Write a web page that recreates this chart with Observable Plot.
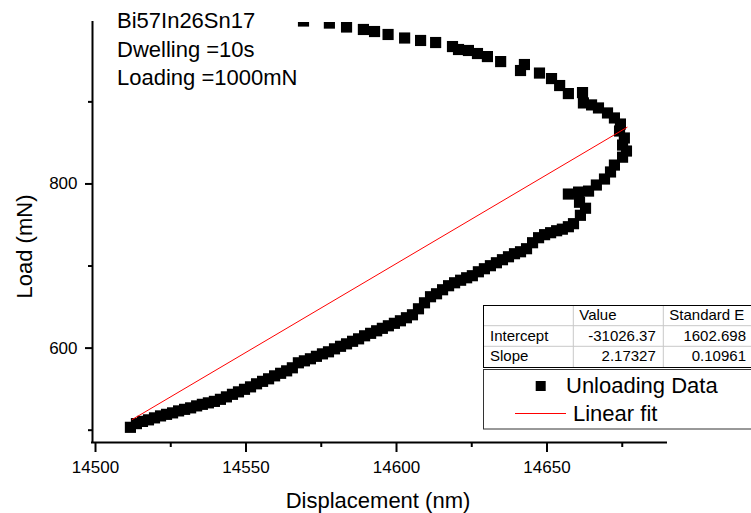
<!DOCTYPE html>
<html>
<head>
<meta charset="utf-8">
<script src="https://cdn.jsdelivr.net/npm/d3@7"></script>
<script src="https://cdn.jsdelivr.net/npm/@observablehq/plot@0.6"></script>
<style>
  html, body { margin: 0; padding: 0; background: #ffffff; }
  #wrap { position: relative; width: 751px; height: 513px; overflow: hidden; background: #ffffff; }
  #wrap svg { display: block; }
</style>
</head>
<body>
<div id="wrap"></div>
<script>
// ---- data ----
// upper branch (top) -> nose -> lower branch (bottom-left)
const displacement = [
  14569.1, 14577.7, 14583.4, 14589.0, 14592.7, 14597.2, 14602.7, 14608.0, 14613.0, 14618.6,
  14620.6, 14623.9, 14626.9, 14630.2, 14634.6, 14641.2, 14642.5, 14647.5, 14651.5, 14654.2,
  14657.1, 14661.8, 14662.1, 14664.8, 14667.1, 14670.1, 14672.4, 14674.4, 14674.1, 14675.7,
  14675.1, 14676.4, 14675.1, 14672.4, 14671.1, 14669.1, 14666.4, 14663.8, 14660.5, 14657.1,
  14660.8, 14662.8, 14661.1, 14658.8,
  14657.1, 14655.1, 14653.2, 14651.2, 14649.2, 14647.2, 14645.2, 14643.2, 14641.2, 14639.2,
  14637.2, 14635.2, 14633.2, 14631.2, 14629.2, 14627.2, 14625.2, 14623.3, 14621.3, 14619.3,
  14617.3, 14615.3, 14613.3, 14611.3, 14609.3, 14607.3, 14605.3, 14603.3, 14601.3, 14599.3,
  14597.3, 14595.3, 14593.4, 14591.4, 14589.4, 14587.4, 14585.4, 14583.4, 14581.4, 14579.4,
  14577.4, 14575.4, 14573.4, 14571.4, 14569.4, 14567.4, 14565.4, 14563.5, 14561.5, 14559.5,
  14557.5, 14555.5, 14553.5, 14551.5, 14549.5, 14547.5, 14545.5, 14543.5, 14541.5, 14539.5,
  14537.5, 14535.5, 14533.6, 14531.6, 14529.6, 14527.6, 14525.6, 14523.6, 14521.6, 14519.6,
  14517.6, 14515.6, 14513.6, 14511.6
];
const load = [
  998.5, 996.0, 991.2, 988.2, 985.7, 982.1, 977.8, 974.8, 972.3, 967.4,
  963.8, 962.6, 958.9, 955.2, 949.1, 938.2, 945.5, 935.1, 928.4, 919.9,
  910.1, 911.3, 898.7, 896.3, 892.6, 886.5, 880.4, 873.0, 864.5, 856.0,
  847.4, 840.1, 832.6, 823.0, 814.6, 806.0, 798.7, 791.3, 790.1, 787.7,
  777.7, 770.4, 761.8, 751.6,
  747.9, 744.9, 743.0, 740.6, 738.2, 734.5, 728.4, 721.1, 717.4, 715.0,
  711.3, 707.7, 704.0, 700.4, 696.7, 693.0, 688.2, 685.7, 682.7, 679.6,
  676.0, 671.1, 666.2, 662.6, 655.2, 647.9, 640.6, 637.0, 633.3, 630.2,
  627.2, 624.1, 621.1, 618.0, 615.0, 611.3, 608.3, 605.2, 602.2, 599.1,
  595.5, 593.0, 590.0, 587.0, 584.5, 582.1, 576.0, 572.3, 569.3, 566.2,
  562.6, 559.5, 556.5, 552.8, 549.8, 546.7, 543.7, 540.6, 537.6, 535.1,
  533.3, 531.5, 529.6, 527.2, 525.4, 523.5, 521.1, 519.3, 517.4, 515.0,
  512.6, 510.7, 508.0, 503.5
];
const fitDisplacement = [14512.2, 14676.6];
const fitLoad = [513, 869];

const xDomain = [14499, 14689.7];
const yDomain = [485, 996.7];
const xMajorTicks = [14500, 14550, 14600, 14650];
const xMinorTicks = [14525, 14575, 14625, 14675];
const yMajorTicks = [600, 800];
const yMinorTicks = [500, 700, 900];

const xTitle = "Displacement (nm)";
const yTitle = "Load (mN)";
const annotationLines = ["Bi57In26Sn17", "Dwelling =10s", "Loading =1000mN"];
const tableHeader = ["", "Value", "Standard E"];
const tableRows = [
  ["Intercept", "-31026.37", "1602.698"],
  ["Slope", "2.17327", "0.10961"]
];
const legendLabels = ["Unloading Data", "Linear fit"];

// ---- build ----
const points = displacement.map((x, i) => ({x, y: load[i]}));
const fit = fitDisplacement.map((x, i) => ({x, y: fitLoad[i]}));
const FONT = "Arial, 'Liberation Sans', sans-serif";

const plot = Plot.plot({
  width: 751,
  height: 513,
  marginLeft: 92,
  marginRight: 85,
  marginTop: 22,
  marginBottom: 71,
  x: {domain: xDomain},
  y: {domain: yDomain},
  style: {fontFamily: FONT, fontSize: "17px", background: "#ffffff", color: "#000000", overflow: "hidden"},
  marks: [
    Plot.dot(points, {x: "x", y: "y", symbol: "square", r: 6.3, fill: "#000000", stroke: "none", clip: true}),
    Plot.line(fit, {x: "x", y: "y", stroke: "#ff0000", strokeWidth: 1}),
    Plot.axisX({ticks: xMajorTicks, tickSize: 10, tickPadding: 8, strokeWidth: 2, label: null, fontSize: 17, tickFormat: d => String(d)}),
    Plot.axisX({ticks: xMinorTicks, tickSize: 5, strokeWidth: 2, label: null, tickFormat: () => ""}),
    Plot.axisY({ticks: yMajorTicks, tickSize: 7, tickPadding: 8, strokeWidth: 2, label: null, fontSize: 17, tickFormat: d => String(d)}),
    Plot.axisY({ticks: yMinorTicks, tickSize: 4, strokeWidth: 2, label: null, tickFormat: () => ""}),
    Plot.ruleY([yDomain[0]], {strokeWidth: 2, strokeLinecap: "square"}),
    Plot.ruleX([xDomain[0]], {strokeWidth: 2, strokeLinecap: "square"})
  ]
});
document.getElementById("wrap").appendChild(plot);

const svg = d3.select(plot);
const txt = (x, y, s, size, anchor) => svg.append("text")
  .attr("x", x).attr("y", y)
  .attr("font-family", FONT).attr("font-size", size)
  .attr("fill", "#000000").attr("text-anchor", anchor || "start")
  .text(s);

// axis titles
txt(378, 508, xTitle, 22, "middle");
svg.append("text")
  .attr("transform", "translate(32,246.5) rotate(-90)")
  .attr("font-family", FONT).attr("font-size", 22)
  .attr("fill", "#000000").attr("text-anchor", "middle")
  .text(yTitle);

// annotation
annotationLines.forEach((s, i) => txt(117, 28.3 + i * 28.3, s, 22));

// fit table
const colX = [483, 573.3, 663.3, 790];
const rowY = [305, 325.7, 346.3, 367];
const tg = svg.append("g");
tg.append("rect").attr("x", colX[0] + 0.5).attr("y", rowY[0] + 0.5)
  .attr("width", colX[3] - colX[0]).attr("height", rowY[3] - rowY[0])
  .attr("fill", "#ffffff").attr("stroke", "none");
[colX[1], colX[2]].forEach(x => tg.append("line")
  .attr("x1", x).attr("x2", x).attr("y1", rowY[0]).attr("y2", rowY[3])
  .attr("stroke", "#c8c8c8").attr("stroke-width", 1));
[rowY[1], rowY[2]].forEach(y => tg.append("line")
  .attr("x1", colX[0]).attr("x2", colX[3]).attr("y1", y).attr("y2", y)
  .attr("stroke", "#c8c8c8").attr("stroke-width", 1));
tg.append("rect").attr("x", colX[0] + 0.5).attr("y", rowY[0] + 0.5)
  .attr("width", colX[3] - colX[0]).attr("height", rowY[3] - rowY[0])
  .attr("fill", "none").attr("stroke", "#000000").attr("stroke-width", 1);
txt(colX[1] + 6, rowY[0] + 14.5, tableHeader[1], 15);
txt(colX[2] + 6, rowY[0] + 14.5, tableHeader[2], 15);
tableRows.forEach((r, i) => {
  const by = rowY[i + 1] + 14.8;
  txt(colX[0] + 7, by, r[0], 15);
  txt(colX[2] - 7.5, by, r[1], 15, "end");
  txt(746, by, r[2], 15, "end");
});

// legend box
const lg = svg.append("g");
lg.append("rect").attr("x", 483.5).attr("y", 369.5).attr("width", 320).attr("height", 59.5)
  .attr("fill", "#ffffff").attr("stroke", "#333333").attr("stroke-width", 1);
lg.append("rect").attr("x", 535.7).attr("y", 381).attr("width", 10).attr("height", 10).attr("fill", "#000000");
txt(566, 393, legendLabels[0], 22);
lg.append("line").attr("x1", 515).attr("x2", 566).attr("y1", 413.5).attr("y2", 413.5)
  .attr("stroke", "#ff0000").attr("stroke-width", 1);
txt(573, 421, legendLabels[1], 22);
</script>
</body>
</html>
